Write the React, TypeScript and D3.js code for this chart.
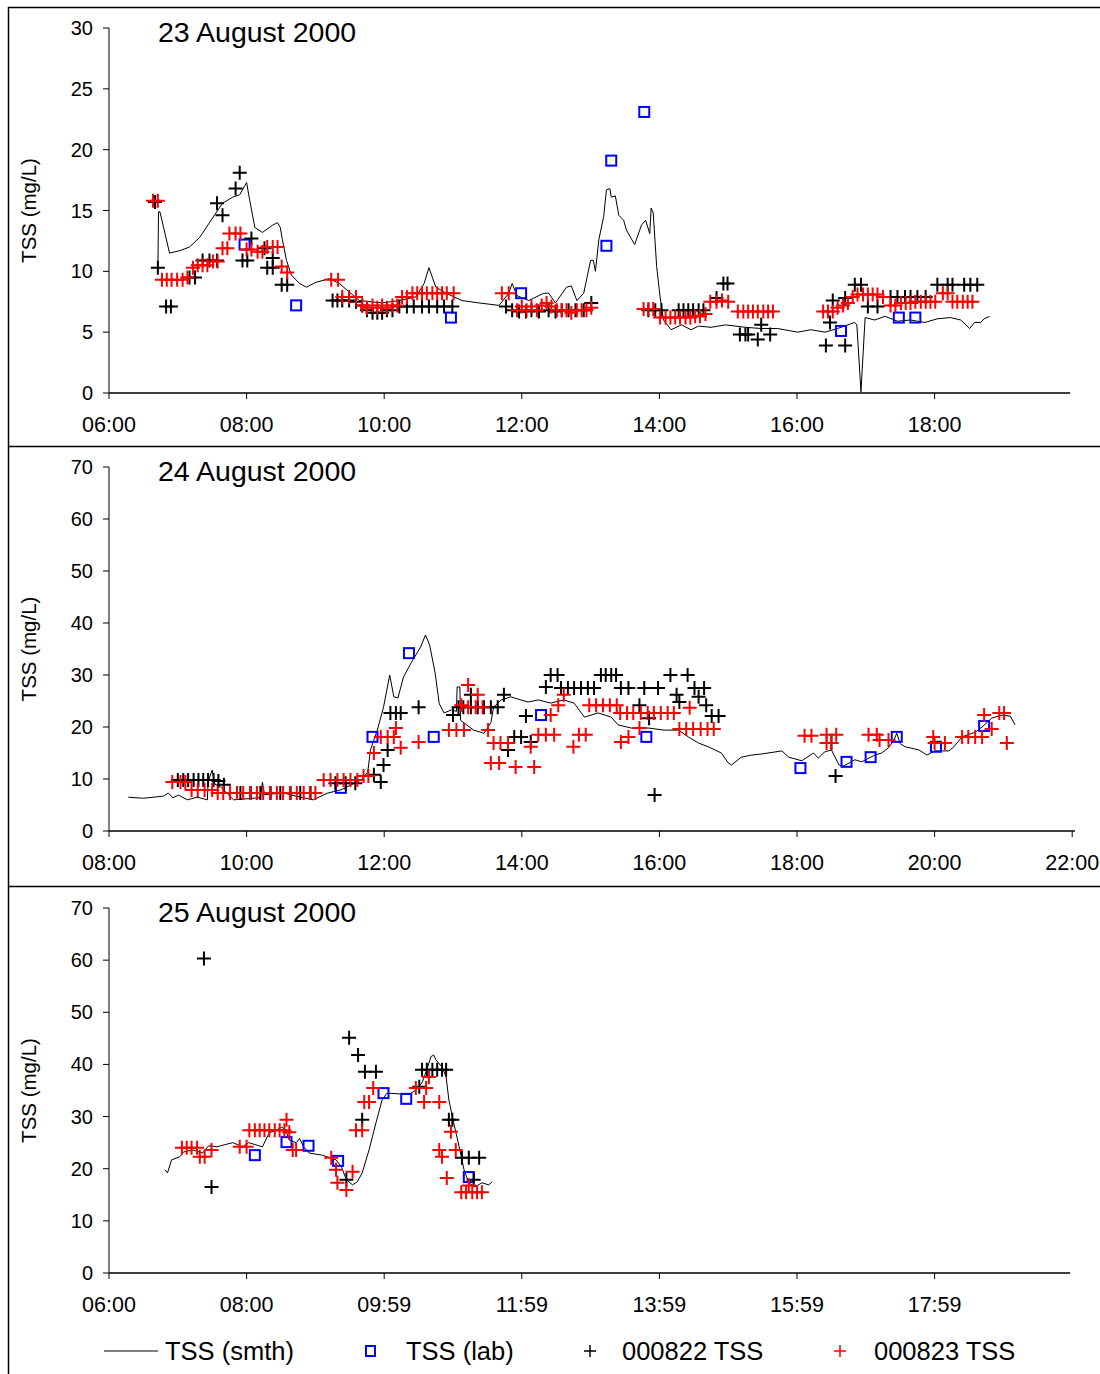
import React from 'react';
import * as d3 from 'd3';

type Pt = [number, number];

// ---- 23 August 2000 (hours, mg/L) ----
const aug23Smooth: Pt[] = [
  [6.71, 10.0], [6.72, 14.9], [6.74, 14.9], [6.88, 11.5], [7.03, 11.7], [7.17, 12.0], [7.32, 12.8], [7.46, 14.0],
  [7.65, 15.6], [7.8, 16.1], [7.9, 16.3], [8.0, 17.3], [8.04, 16.0], [8.12, 13.6], [8.23, 13.2], [8.38, 13.8],
  [8.45, 14.0], [8.49, 13.6], [8.52, 12.6], [8.58, 10.9], [8.65, 9.7], [8.77, 9.0], [8.87, 8.7], [9.01, 9.1],
  [9.2, 9.4], [9.35, 9.0], [9.45, 8.5], [9.64, 7.6], [9.97, 7.4], [10.22, 7.6], [10.46, 7.9], [10.58, 9.0],
  [10.65, 10.3], [10.75, 8.7], [10.9, 8.2], [11.13, 7.6], [11.38, 7.4], [11.67, 7.2], [11.81, 8.2], [11.86, 9.0],
  [11.93, 8.0], [12.1, 7.6], [12.32, 8.2], [12.39, 8.2], [12.49, 7.4], [12.65, 8.7], [12.72, 8.8], [12.8, 7.6],
  [12.9, 8.2], [13.0, 10.9], [13.04, 10.9], [13.07, 10.0], [13.12, 12.6], [13.19, 14.5], [13.23, 16.7], [13.28, 16.8],
  [13.3, 16.1], [13.36, 16.2], [13.41, 14.6], [13.48, 14.2], [13.52, 13.4], [13.64, 12.2], [13.74, 13.8], [13.8, 14.2],
  [13.86, 13.1], [13.88, 15.2], [13.91, 14.8], [13.96, 10.4], [14.01, 7.9], [14.06, 6.0], [14.17, 5.2], [14.32, 5.6],
  [14.46, 5.2], [14.57, 5.5], [14.75, 5.4], [14.96, 5.6], [15.25, 5.4], [15.48, 5.3], [15.72, 5.3], [16.01, 5.0],
  [16.2, 5.2], [16.41, 5.0], [16.59, 5.3], [16.84, 5.8], [16.87, 5.6], [16.93, 0.1], [16.99, 6.2], [17.13, 6.0],
  [17.28, 6.3], [17.46, 5.9], [17.65, 6.0], [17.86, 5.8], [18.04, 6.1], [18.23, 6.2], [18.38, 6.0], [18.51, 5.3],
  [18.58, 5.8], [18.67, 5.8], [18.72, 6.1], [18.8, 6.3],
];
const aug23Lab: Pt[] = [
  [7.97, 12.2], [8.72, 7.2], [10.97, 6.2], [11.99, 8.2], [13.23, 12.1], [13.3, 19.1], [13.78, 23.1],
  [16.64, 5.1], [17.48, 6.2], [17.72, 6.2],
];
const aug23Probe822: Pt[] = [
  [6.67, 15.7], [6.71, 10.3], [6.83, 7.1], [6.9, 7.1], [7.17, 9.5], [7.25, 9.5], [7.36, 10.9], [7.46, 10.9],
  [7.57, 10.9], [7.57, 15.6], [7.65, 14.6], [7.84, 16.8], [7.9, 18.1], [7.94, 10.9], [8.01, 10.9], [8.07, 12.7],
  [8.26, 11.9], [8.3, 10.3], [8.38, 10.3], [8.38, 11.1], [8.51, 8.9], [8.59, 8.9], [9.25, 7.6], [9.32, 7.6],
  [9.39, 7.6], [9.49, 7.6], [9.59, 7.5], [9.68, 7.2], [9.75, 6.8], [9.83, 6.6], [9.9, 6.6], [9.97, 6.6],
  [10.04, 6.8], [10.12, 6.8], [10.22, 7.1], [10.33, 7.1], [10.43, 7.1], [10.55, 7.1], [10.65, 7.1], [10.77, 7.1],
  [10.87, 7.1], [10.99, 7.1], [11.77, 7.1], [11.86, 6.8], [11.96, 6.7], [12.06, 6.7], [12.14, 6.8], [12.25, 6.7],
  [12.39, 6.8], [12.49, 6.7], [12.58, 6.8], [12.68, 6.8], [12.78, 6.8], [12.9, 6.8], [13.01, 7.4], [13.84, 6.8],
  [13.94, 6.8], [14.03, 6.8], [14.28, 6.8], [14.35, 6.8], [14.42, 6.8], [14.49, 6.8], [14.57, 6.8], [14.64, 6.8],
  [14.83, 7.8], [14.93, 9.0], [14.99, 9.0], [15.17, 4.8], [15.25, 4.8], [15.29, 4.8], [15.43, 4.4], [15.48, 5.6],
  [15.61, 4.8], [16.42, 3.9], [16.48, 5.8], [16.52, 7.6], [16.7, 3.9], [16.7, 7.8], [16.84, 8.9], [16.93, 8.9],
  [17.03, 7.1], [17.17, 7.1], [17.36, 7.9], [17.46, 7.9], [17.57, 7.9], [17.65, 7.9], [17.75, 7.9], [17.87, 7.9],
  [18.04, 8.9], [18.19, 8.9], [18.26, 8.9], [18.43, 8.9], [18.52, 8.9], [18.62, 8.9],
];
const aug23Probe823: Pt[] = [
  [6.64, 15.8], [6.71, 15.8], [6.77, 9.3], [6.84, 9.3], [6.91, 9.3], [6.99, 9.3], [7.07, 9.3], [7.14, 9.5],
  [7.22, 10.3], [7.29, 10.5], [7.36, 10.5], [7.43, 10.5], [7.51, 10.8], [7.58, 10.8], [7.65, 11.9], [7.72, 11.9],
  [7.75, 13.1], [7.84, 13.1], [7.91, 13.1], [8.0, 11.8], [8.07, 11.8], [8.16, 11.6], [8.23, 11.6], [8.3, 12.0],
  [8.38, 12.0], [8.45, 12.0], [8.51, 10.4], [8.59, 9.9], [9.23, 9.3], [9.33, 9.3], [9.39, 7.9], [9.49, 7.9],
  [9.59, 7.9], [9.68, 7.2], [9.75, 7.0], [9.83, 7.2], [9.9, 7.0], [9.97, 7.2], [10.04, 7.0], [10.12, 7.2],
  [10.19, 7.2], [10.26, 7.9], [10.33, 7.9], [10.41, 8.2], [10.48, 8.2], [10.55, 8.2], [10.62, 8.2], [10.7, 8.2],
  [10.77, 8.2], [10.84, 8.2], [10.91, 8.2], [11.01, 8.2], [11.71, 8.2], [11.81, 8.2], [11.93, 6.8], [12.0, 7.1],
  [12.07, 6.8], [12.14, 7.1], [12.22, 6.8], [12.29, 7.2], [12.36, 7.4], [12.43, 7.1], [12.51, 6.8], [12.58, 6.8],
  [12.65, 6.8], [12.72, 6.6], [12.8, 6.8], [12.87, 6.8], [12.94, 6.8], [13.01, 7.0], [13.77, 6.9], [13.84, 6.9],
  [13.91, 6.9], [14.01, 6.2], [14.09, 6.2], [14.16, 6.2], [14.23, 6.2], [14.3, 6.2], [14.38, 6.2], [14.45, 6.2],
  [14.52, 6.3], [14.59, 6.3], [14.67, 6.5], [14.74, 7.5], [14.83, 7.5], [14.91, 7.6], [15.0, 7.5], [15.14, 6.7],
  [15.22, 6.7], [15.29, 6.7], [15.36, 6.7], [15.43, 6.7], [15.51, 6.7], [15.58, 6.7], [15.65, 6.7], [16.38, 6.7],
  [16.45, 6.7], [16.52, 6.7], [16.59, 7.0], [16.67, 7.2], [16.74, 7.4], [16.81, 7.9], [16.88, 8.1], [16.96, 8.1],
  [17.03, 8.1], [17.1, 8.1], [17.17, 8.1], [17.25, 7.9], [17.36, 7.2], [17.43, 7.2], [17.51, 7.4], [17.58, 7.4],
  [17.65, 7.4], [17.72, 7.5], [17.8, 7.5], [17.87, 7.5], [17.94, 7.5], [18.01, 7.5], [18.12, 8.2], [18.19, 8.2],
  [18.26, 7.5], [18.33, 7.5], [18.41, 7.5], [18.48, 7.5], [18.55, 7.5],
];

// ---- 24 August 2000 ----
const aug24Smooth: Pt[] = [
  [8.28, 6.5], [8.5, 6.3], [8.79, 6.7], [8.86, 7.3], [8.93, 6.4], [9.01, 6.9], [9.14, 6.0], [9.28, 6.5],
  [9.43, 6.0], [9.44, 9.5], [9.5, 11.7], [9.54, 9.0], [9.62, 8.5], [9.81, 6.0], [10.2, 6.4], [10.23, 9.4],
  [10.26, 7.0], [10.54, 7.3], [10.78, 6.5], [10.97, 6.0], [11.18, 7.3], [11.37, 7.9], [11.66, 9.8], [11.76, 11.3],
  [11.8, 15.6], [11.9, 19.4], [11.99, 23.8], [12.08, 30.0], [12.14, 25.8], [12.2, 25.6], [12.28, 29.6], [12.39, 32.3],
  [12.53, 35.4], [12.6, 37.7], [12.66, 35.8], [12.74, 30.4], [12.8, 24.5], [12.87, 22.7], [12.98, 23.3], [13.05, 23.0],
  [13.06, 27.7], [13.1, 27.7], [13.11, 21.3], [13.3, 19.4], [13.45, 18.8], [13.55, 20.8], [13.59, 23.8], [13.7, 25.2],
  [13.84, 25.8], [13.99, 25.2], [14.09, 24.8], [14.24, 25.2], [14.42, 24.6], [14.61, 25.2], [14.76, 24.6], [14.91, 21.9],
  [15.11, 22.7], [15.3, 21.9], [15.4, 20.4], [15.59, 19.8], [15.84, 19.8], [16.07, 19.4], [16.28, 19.4], [16.42, 18.1],
  [16.57, 16.9], [16.71, 16.2], [16.9, 15.0], [17.0, 13.1], [17.05, 12.7], [17.19, 14.2], [17.34, 14.6], [17.48, 14.8],
  [17.78, 15.4], [17.88, 14.2], [18.07, 13.5], [18.24, 15.0], [18.31, 14.0], [18.4, 15.2], [18.5, 15.6], [18.61, 12.7],
  [18.68, 12.5], [18.84, 13.7], [18.94, 13.3], [19.13, 14.6], [19.23, 15.0], [19.33, 16.0], [19.41, 17.5], [19.45, 18.8],
  [19.5, 16.8], [19.57, 16.2], [19.77, 15.6], [19.89, 14.6], [20.0, 15.4], [20.21, 15.4], [20.28, 16.2], [20.4, 18.1],
  [20.59, 19.0], [20.69, 20.0], [20.83, 21.7], [20.98, 22.3], [21.1, 22.1], [21.17, 20.4],
];
const aug24Lab: Pt[] = [
  [11.37, 8.3], [11.83, 18.1], [12.36, 34.2], [12.72, 18.1], [14.28, 22.3], [15.81, 18.1], [18.05, 12.1],
  [18.72, 13.3], [19.07, 14.2], [19.45, 18.1], [20.02, 16.2], [20.72, 20.2],
];
const aug24Probe822: Pt[] = [
  [9.0, 9.8], [9.08, 9.8], [9.15, 9.8], [9.23, 9.8], [9.3, 9.8], [9.37, 9.8], [9.44, 9.8], [9.52, 9.8],
  [9.59, 9.6], [9.67, 8.9], [9.91, 7.3], [10.06, 7.3], [10.2, 7.3], [10.35, 7.3], [10.49, 7.3], [10.64, 7.3],
  [10.78, 7.3], [10.93, 7.3], [11.29, 9.2], [11.44, 9.2], [11.58, 9.2], [11.85, 10.8], [11.95, 9.4], [11.99, 12.7],
  [12.05, 15.6], [12.09, 22.7], [12.17, 22.7], [12.24, 22.7], [12.5, 23.8], [13.0, 22.3], [13.08, 23.8], [13.15, 23.8],
  [13.26, 23.8], [13.26, 26.2], [13.36, 23.8], [13.45, 23.8], [13.55, 23.8], [13.65, 23.8], [13.74, 26.2], [13.8, 15.6],
  [13.89, 18.1], [13.99, 18.1], [14.13, 17.1], [14.06, 22.1], [14.35, 27.7], [14.42, 30.0], [14.52, 30.0], [14.57, 27.5],
  [14.67, 27.5], [14.76, 27.5], [14.86, 27.5], [14.96, 27.5], [15.05, 27.5], [15.15, 30.0], [15.22, 30.0], [15.3, 30.0],
  [15.37, 30.0], [15.44, 27.5], [15.55, 27.5], [15.71, 24.2], [15.78, 27.5], [15.85, 21.7], [15.93, 6.9], [15.98, 27.5],
  [16.16, 30.0], [16.25, 26.2], [16.29, 24.8], [16.41, 30.0], [16.51, 27.5], [16.57, 25.8], [16.65, 27.5], [16.68, 24.2],
  [16.76, 22.1], [16.86, 22.1], [18.5, 16.9], [18.56, 10.6],
];
const aug24Probe823: Pt[] = [
  [8.92, 9.4], [9.04, 9.4], [9.11, 9.4], [9.2, 7.9], [9.29, 7.9], [9.39, 7.9], [9.5, 7.9], [9.58, 7.3],
  [9.66, 7.3], [9.76, 7.3], [9.86, 7.3], [9.95, 7.3], [10.05, 7.3], [10.15, 7.3], [10.24, 7.3], [10.34, 7.3],
  [10.44, 7.3], [10.53, 7.3], [10.63, 7.3], [10.73, 7.3], [10.83, 7.3], [10.92, 7.3], [11.0, 7.3], [11.12, 9.8],
  [11.22, 9.8], [11.32, 9.8], [11.41, 9.8], [11.51, 9.8], [11.61, 9.8], [11.7, 10.6], [11.77, 10.6], [11.85, 15.0],
  [11.95, 18.1], [12.05, 18.1], [12.14, 18.1], [12.17, 19.8], [12.24, 16.0], [12.5, 17.1], [12.94, 19.4], [13.05, 19.4],
  [13.16, 19.4], [13.22, 28.1], [13.36, 26.2], [13.12, 24.2], [13.22, 23.8], [13.33, 23.8], [13.43, 23.8], [13.51, 19.4],
  [13.55, 13.1], [13.67, 13.1], [13.59, 16.9], [13.69, 16.9], [13.8, 16.9], [13.91, 12.3], [14.13, 16.2], [14.18, 12.3],
  [14.24, 18.5], [14.35, 18.5], [14.42, 22.3], [14.47, 18.5], [14.53, 24.2], [14.61, 26.2], [14.75, 16.2], [14.83, 18.5],
  [14.93, 18.5], [14.98, 24.2], [15.08, 24.2], [15.18, 24.2], [15.28, 24.2], [15.38, 24.2], [15.44, 17.1], [15.43, 22.7],
  [15.53, 22.7], [15.55, 18.1], [15.62, 22.7], [15.71, 19.8], [15.73, 22.7], [15.83, 22.7], [15.92, 22.7], [16.02, 22.7],
  [16.12, 22.7], [16.21, 22.7], [16.29, 19.6], [16.44, 23.7], [16.39, 19.6], [16.49, 19.6], [16.6, 19.6], [16.7, 19.6],
  [16.79, 19.6], [18.11, 18.3], [18.21, 18.3], [18.43, 18.5], [18.57, 18.5], [18.43, 16.9], [18.5, 16.9], [19.04, 18.5],
  [19.16, 18.5], [19.2, 17.5], [19.33, 17.5], [19.98, 18.1], [20.0, 16.9], [20.15, 16.9], [20.4, 18.1], [20.49, 18.1],
  [20.59, 18.1], [20.69, 18.1], [20.83, 19.6], [20.72, 22.3], [20.94, 22.7], [21.01, 22.7], [21.05, 16.9],
];

// ---- 25 August 2000 ----
const aug25Smooth: Pt[] = [
  [6.81, 19.8], [6.85, 19.2], [6.91, 21.7], [7.03, 22.3], [7.08, 23.2], [7.22, 23.6], [7.36, 23.0], [7.45, 24.4],
  [7.57, 24.2], [7.68, 24.6], [7.8, 25.0], [7.94, 24.2], [8.03, 25.0], [8.23, 24.2], [8.33, 26.9], [8.43, 27.4],
  [8.51, 28.0], [8.57, 27.4], [8.62, 25.5], [8.72, 25.0], [8.77, 25.8], [8.83, 24.2], [8.91, 23.0], [9.1, 22.6],
  [9.3, 21.7], [9.38, 20.3], [9.45, 17.9], [9.54, 16.9], [9.61, 17.5], [9.68, 19.2], [9.78, 23.6], [9.88, 28.8],
  [9.97, 33.2], [10.04, 34.5], [10.17, 34.4], [10.36, 34.2], [10.46, 35.1], [10.55, 36.5], [10.62, 39.0], [10.68, 41.5],
  [10.72, 41.8], [10.75, 40.9], [10.84, 39.5], [10.9, 37.6], [10.94, 33.2], [11.01, 28.8], [11.09, 24.2], [11.16, 19.8],
  [11.23, 17.3], [11.32, 16.5], [11.42, 17.3], [11.52, 16.9], [11.57, 17.5],
];
const aug25Lab: Pt[] = [
  [8.12, 22.6], [8.58, 25.1], [8.9, 24.4], [9.33, 21.5], [9.99, 34.5], [10.32, 33.4], [11.23, 18.4],
];
const aug25Probe822: Pt[] = [
  [7.38, 60.3], [7.49, 16.5], [9.45, 17.9], [9.49, 45.1], [9.62, 41.8], [9.68, 29.4], [9.72, 38.6], [9.88, 38.6],
  [10.51, 35.7], [10.55, 39.0], [10.62, 39.0], [10.7, 39.0], [10.77, 39.0], [10.84, 39.0], [10.9, 39.0], [10.94, 29.4],
  [10.99, 29.4], [11.13, 22.1], [11.23, 22.1], [11.38, 22.1], [11.3, 17.9],
];
const aug25Probe823: Pt[] = [
  [7.06, 24.0], [7.13, 24.0], [7.2, 24.0], [7.28, 24.0], [7.32, 22.3], [7.39, 22.3], [7.49, 23.6], [7.9, 24.2],
  [8.0, 24.2], [8.04, 27.4], [8.12, 27.4], [8.19, 27.4], [8.26, 27.4], [8.33, 27.4], [8.41, 27.4], [8.48, 27.4],
  [8.55, 27.4], [8.58, 29.4], [8.62, 27.0], [8.67, 23.6], [8.72, 23.6], [9.23, 22.1], [9.3, 19.8], [9.32, 17.3],
  [9.45, 15.9], [9.54, 19.4], [9.59, 27.4], [9.68, 27.4], [9.71, 32.8], [9.78, 32.8], [9.84, 35.5], [10.46, 35.5],
  [10.61, 35.5], [10.65, 37.6], [10.58, 32.8], [10.8, 32.8], [10.97, 27.1], [10.8, 23.6], [11.04, 23.6], [10.84, 22.3],
  [10.91, 18.2], [11.12, 15.5], [11.19, 15.5], [11.28, 15.5], [11.35, 15.5], [11.42, 15.5], [11.23, 16.8],
];

const ticks23 = [6, 8, 10, 12, 14, 16, 18];
const ticks24 = [8, 10, 12, 14, 16, 18, 20, 22];
const ticks25 = [6, 8, 10, 12, 14, 16, 18];
const tickLabels23 = ['06:00', '08:00', '10:00', '12:00', '14:00', '16:00', '18:00'];
const tickLabels24 = ['08:00', '10:00', '12:00', '14:00', '16:00', '18:00', '20:00', '22:00'];
const tickLabels25 = ['06:00', '08:00', '09:59', '11:59', '13:59', '15:59', '17:59'];

const FONT = 'Liberation Sans, Arial, sans-serif';

const Plus = ({ x, y, color, r = 7, w = 2 }: any) => (
  <path d={`M${x - r},${y}H${x + r}M${x},${y - r}V${y + r}`} stroke={color} strokeWidth={w} fill="none" />
);

const Panel = (props: any) => {
  const { top, bottom, yMax, yStep, xDom, xEnd, xTicks, xLabels, title, smooth, lab, p822, p823 } = props;
  const x = d3.scaleLinear().domain(xDom).range([109, 109 + (xDom[1] - xDom[0]) * 68.8]);
  const y = d3.scaleLinear().domain([0, yMax]).range([bottom, top]);
  const yTicks = d3.range(0, yMax + 0.001, yStep);
  const line = d3.line<Pt>().x(d => x(d[0])).y(d => y(d[1]));
  return (
    <g>
      <text x={158} y={top + 14} fontSize={28.5} fontFamily={FONT}>{title}</text>
      <text transform={`translate(36,${(top + bottom) / 2}) rotate(-90)`} textAnchor="middle" fontSize={20.5} fontFamily={FONT}>TSS (mg/L)</text>
      <line x1={109} x2={109} y1={top} y2={bottom} stroke="#000" strokeWidth={1} />
      {yTicks.map(t => (
        <g key={t}>
          <line x1={103} x2={109} y1={y(t)} y2={y(t)} stroke="#000" />
          <text x={93} y={y(t) + 7} textAnchor="end" fontSize={20} fontFamily={FONT}>{t}</text>
        </g>
      ))}
      <line x1={109} x2={x(xEnd)} y1={bottom} y2={bottom} stroke="#000" strokeWidth={1.3} />
      {xTicks.map((t: number, i: number) => (
        <g key={t}>
          <line x1={x(t)} x2={x(t)} y1={bottom} y2={bottom + 6} stroke="#000" />
          <text x={x(t)} y={bottom + 39} textAnchor="middle" fontSize={21.5} fontFamily={FONT}>{xLabels[i]}</text>
        </g>
      ))}
      <path d={line(smooth) || ''} fill="none" stroke="#000" strokeWidth={1} />
      {lab.map((d: Pt, i: number) => (
        <rect key={i} x={x(d[0]) - 5} y={y(d[1]) - 5} width={10} height={10} fill="none" stroke="#0000ff" strokeWidth={2} />
      ))}
      {p822.map((d: Pt, i: number) => <Plus key={'b' + i} x={x(d[0])} y={y(d[1])} color="#000" />)}
      {p823.map((d: Pt, i: number) => <Plus key={'r' + i} x={x(d[0])} y={y(d[1])} color="#ff0000" />)}
    </g>
  );
};

export default function App() {
  return (
    <svg width={1100} height={1374} style={{ position: 'absolute', left: 0, top: 0, background: '#fff' }}>
      <rect x={0} y={0} width={1100} height={1374} fill="#fff" />
      <line x1={8} x2={1100} y1={7.5} y2={7.5} stroke="#000" strokeWidth={1.5} />
      <line x1={8.5} x2={8.5} y1={7} y2={1374} stroke="#000" strokeWidth={1.5} />
      <line x1={8} x2={1100} y1={446.5} y2={446.5} stroke="#000" strokeWidth={1.5} />
      <line x1={8} x2={1100} y1={886.5} y2={886.5} stroke="#000" strokeWidth={1.5} />
      <Panel top={28} bottom={393} yMax={30} yStep={5} xDom={[6, 20]} xEnd={19.97} xTicks={ticks23} xLabels={tickLabels23}
        title="23 August 2000" smooth={aug23Smooth} lab={aug23Lab} p822={aug23Probe822} p823={aug23Probe823} />
      <Panel top={467} bottom={831} yMax={70} yStep={10} xDom={[8, 22]} xEnd={22.04} xTicks={ticks24} xLabels={tickLabels24}
        title="24 August 2000" smooth={aug24Smooth} lab={aug24Lab} p822={aug24Probe822} p823={aug24Probe823} />
      <Panel top={908} bottom={1273} yMax={70} yStep={10} xDom={[6, 20]} xEnd={19.97} xTicks={ticks25} xLabels={tickLabels25}
        title="25 August 2000" smooth={aug25Smooth} lab={aug25Lab} p822={aug25Probe822} p823={aug25Probe823} />
      <g fontFamily={FONT} fontSize={25.5}>
        <line x1={104} x2={158} y1={1351} y2={1351} stroke="#000" />
        <text x={165} y={1360}>TSS (smth)</text>
        <rect x={366} y={1346} width={9} height={10} fill="none" stroke="#0000ff" strokeWidth={2} />
        <text x={406} y={1360}>TSS (lab)</text>
        <Plus x={590} y={1351} color="#000" r={6} w={1.5} />
        <text x={622} y={1360}>000822 TSS</text>
        <Plus x={840} y={1351} color="#ff0000" r={6} w={1.5} />
        <text x={874} y={1360}>000823 TSS</text>
      </g>
    </svg>
  );
}
